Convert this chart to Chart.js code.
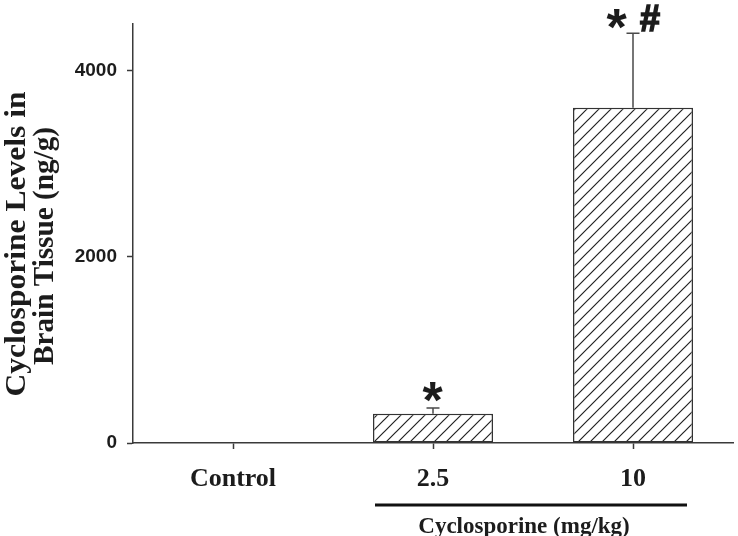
<!DOCTYPE html>
<html>
<head>
<meta charset="utf-8">
<script src="https://cdn.jsdelivr.net/npm/chart.js@4.4.1/dist/chart.umd.min.js"></script>
<style>
    body{ margin:0; background:#fff; }
    #wrap{ width:738px; height:536px; }
</style>
</head>
<body>
<div id="wrap"><canvas id="graphBrain" width="738" height="536"></canvas></div>
<script>
const doseLabels = ['Control', '2.5', '10'];
const meanLevels = [0, 315, 3600];
const errorUp = [0, 60, 800];
const yTicks = [0, 2000, 4000];
const yMax = 4500;
const signif = ['', '*', '*#'];

const axisColor = '#3a3a3a';
const textColor = '#1c1c1c';


function makeHatch(){
    const size = 12;
    const c = document.createElement('canvas');
    c.width = size;
    c.height = size;
    const g = c.getContext('2d');
    g.fillStyle = '#fff';
    g.fillRect(0, 0, size, size);
    g.strokeStyle = '#222';
    g.lineWidth = 1.2;
    g.beginPath();
    g.moveTo(0, size);
    g.lineTo(size, 0);
    g.moveTo(-size/2, size/2);
    g.lineTo(size/2, -size/2);
    g.moveTo(size/2, size*1.5);
    g.lineTo(size*1.5, size/2);
    g.stroke();
    return g.createPattern(c, 'repeat');
};


// draw one glyph centred on cx with its ink bottom at bottomY
function glyphAt(ctx, ch, font, cx, bottomY, thicken){
    ctx.font = font;
    ctx.textAlign = 'left';
    ctx.textBaseline = 'alphabetic';
    const m = ctx.measureText(ch);
    const w = m.actualBoundingBoxRight + m.actualBoundingBoxLeft;
    const x = cx - w/2 + m.actualBoundingBoxLeft;
    const y = bottomY - m.actualBoundingBoxDescent;
    ctx.fillText(ch, x, y);
    if(thicken){
        ctx.strokeStyle = ctx.fillStyle;
        ctx.lineWidth = thicken;
        ctx.strokeText(ch, x, y);
    };
};


// text along a rotated line, squeezed or stretched to a given length
function verticalText(ctx, txt, baseX, midY, length){
    const w = ctx.measureText(txt).width;
    ctx.save();
    ctx.translate(baseX, midY);
    ctx.rotate(-Math.PI/2);
    ctx.scale(length / w, 1);
    ctx.fillText(txt, 0, 0);
    ctx.restore();
};


const decorPlugin = {
    id: 'decor',
    afterDatasetsDraw(chart){
        const ctx = chart.ctx;
        const ys = chart.scales.y;
        const meta = chart.getDatasetMeta(0);

        ctx.save();
        for(let i = 0; i < meanLevels.length; i++){
            if(errorUp[i] <= 0){ continue; }
            const bar = meta.data[i];
            const cx = bar.x;
            const yTop = ys.getPixelForValue(meanLevels[i] + errorUp[i]);
            ctx.strokeStyle = '#4a4a4a';
            ctx.lineWidth = 1.5;
            ctx.beginPath();
            ctx.moveTo(cx, bar.y);
            ctx.lineTo(cx, yTop);
            ctx.moveTo(cx - 6.5, yTop);
            ctx.lineTo(cx + 6.5, yTop);
            ctx.stroke();

            ctx.fillStyle = textColor;
            const s = signif[i];
            if(s === '*'){
                glyphAt(ctx, '*', 'bold 52px "Liberation Sans"', cx, yTop - 6, 0);
            }
            else if(s === '*#'){
                glyphAt(ctx, '*', 'bold 52px "Liberation Sans"', cx - 16, yTop - 4, 0);
                glyphAt(ctx, '#', 'bold 36px "Liberation Sans"', cx + 17, yTop - 2, 1.6);
            };
        };
        ctx.restore();
    },
    afterDraw(chart){
        const ctx = chart.ctx;
        const xs = chart.scales.x;
        ctx.save();
        ctx.fillStyle = textColor;

        // y axis title, two lines
        ctx.font = 'bold 29px "Liberation Serif"';
        ctx.textAlign = 'center';
        ctx.textBaseline = 'alphabetic';
        verticalText(ctx, 'Cyclosporine Levels in', 25, 244, 305);
        verticalText(ctx, 'Brain Tissue (ng/g)', 53, 246, 238);

        // group bar under the treated doses
        const left = xs.getPixelForValue(1) - 58;
        const right = xs.getPixelForValue(2) + 54;
        ctx.strokeStyle = '#111';
        ctx.lineWidth = 3;
        ctx.beginPath();
        ctx.moveTo(left, 505);
        ctx.lineTo(right, 505);
        ctx.stroke();

        ctx.font = 'bold 23px "Liberation Serif"';
        ctx.textAlign = 'center';
        ctx.fillText('Cyclosporine (mg/kg)', (left + right)/2 - 7, 533);
        ctx.restore();
    }
};


window.addEventListener('load', function(){

    const canvasBrain = document.getElementById('graphBrain').getContext('2d');
    let graphBrain = new Chart(canvasBrain, {

        type: 'bar',

        data: {
            labels: doseLabels,
            datasets: [{
                data: meanLevels,
                backgroundColor: makeHatch(),
                borderColor: '#333',
                borderWidth: 1.5,
                borderSkipped: false,
                barPercentage: 0.6,
                categoryPercentage: 1.0
            }]
        },
        options:{
            responsive: false,
            animation: false,
            devicePixelRatio: 1,
            layout:{
                padding:{
                    left: 0,
                    right: 5,
                    top: 24,
                    bottom: 0
                }
            },
            scales:{
                x:{
                    afterFit(scale){ scale.height = 93; },
                    grid:{
                        offset: false,
                        drawOnChartArea: false,
                        drawTicks: true,
                        tickLength: 6,
                        tickWidth: 1.5,
                        tickColor: axisColor
                    },
                    border:{
                        color: axisColor,
                        width: 1.5
                    },
                    ticks:{
                        color: textColor,
                        padding: 15,
                        font:{ family: 'Liberation Serif', size: 26, weight: 'bold' }
                    }
                },
                y:{
                    min: 0,
                    max: yMax,
                    afterFit(scale){ scale.width = 133; },
                    afterBuildTicks(scale){
                        scale.ticks = yTicks.map(v => ({ value: v }));
                    },
                    grid:{
                        drawOnChartArea: false,
                        drawTicks: true,
                        tickLength: 6,
                        tickWidth: 1.5,
                        tickColor: axisColor
                    },
                    border:{
                        color: axisColor,
                        width: 1.5
                    },
                    ticks:{
                        color: textColor,
                        padding: 10,
                        font:{ family: 'Liberation Sans', size: 19, weight: 'bold' },
                        callback: function(value){ return String(value); }
                    }
                }
            },
            plugins:{
                legend:{ display: false },
                tooltip:{ enabled: false }
            }
        },
        plugins: [decorPlugin]
    });
});
</script>
</body>
</html>
